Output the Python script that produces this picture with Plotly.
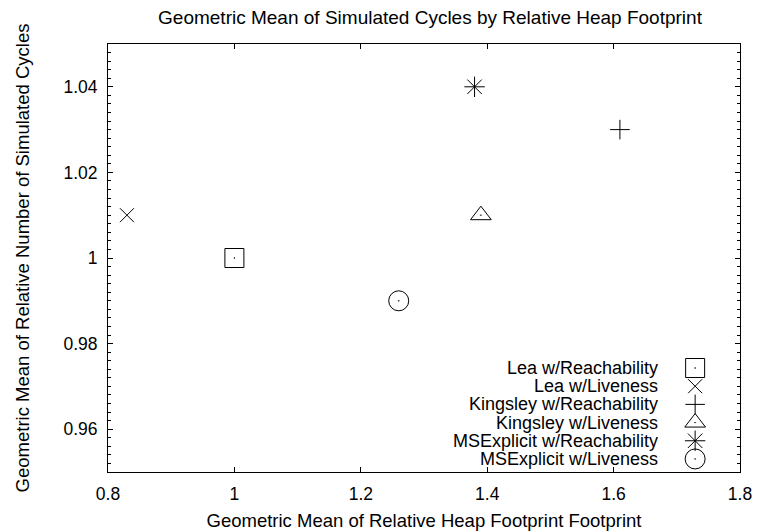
import plotly.graph_objects as go

# Geometric means per allocator / liveness configuration
series_names = [
    "Lea w/Reachability",
    "Lea w/Liveness",
    "Kingsley w/Reachability",
    "Kingsley w/Liveness",
    "MSExplicit w/Reachability",
    "MSExplicit w/Liveness",
]
heap_footprint = [1.00, 0.83, 1.61, 1.39, 1.38, 1.26]
sim_cycles = [1.00, 1.01, 1.03, 1.01, 1.04, 0.99]

x_tickvals = [0.8, 1.0, 1.2, 1.4, 1.6, 1.8]
x_ticktext = ["0.8", "1", "1.2", "1.4", "1.6", "1.8"]

X_RANGE = [0.8, 1.8]
Y_RANGE = [0.95, 1.05]

# gnuplot-like point types
symbols = ["square-open-dot", "x-thin-open", "cross-thin-open",
           "triangle-up-open-dot", "asterisk-open", "circle-open-dot"]
sizes = [19, 14, 14, 18, 17, 20]

FONT = "Liberation Sans, Arial, sans-serif"
FS_TICK = 17.5
FS_KEY = 18
FS_AXTITLE = 18.5
FS_TITLE = 19

fig = go.Figure()

for name, xv, yv, sym, sz in zip(series_names, heap_footprint, sim_cycles, symbols, sizes):
    fig.add_trace(go.Scatter(
        x=[xv], y=[yv], mode="markers", name=name, showlegend=False,
        marker=dict(symbol=sym, size=sz, color="black",
                    line=dict(color="black", width=1)),
        cliponaxis=False,
    ))


def frac_to_x(f):
    return X_RANGE[0] + f * (X_RANGE[1] - X_RANGE[0])


def frac_to_y(f):
    return Y_RANGE[0] + f * (Y_RANGE[1] - Y_RANGE[0])


# Key in the lower right: right-aligned text with the symbol after it
key_x_text = 0.873
key_x_sym = 0.929
key_y0 = 0.243
key_dy = 0.0425
annotations = []
for i, (name, sym, sz) in enumerate(zip(series_names, symbols, sizes)):
    ky = key_y0 - i * key_dy
    fig.add_trace(go.Scatter(
        x=[frac_to_x(key_x_sym)], y=[frac_to_y(ky)], mode="markers",
        showlegend=False, hoverinfo="skip",
        marker=dict(symbol=sym, size=sz, color="black",
                    line=dict(color="black", width=1)),
        cliponaxis=False,
    ))
    annotations.append(dict(
        text=name, xref="paper", yref="paper", x=key_x_text, y=ky,
        xanchor="right", yanchor="middle", showarrow=False,
        font=dict(family=FONT, size=FS_KEY, color="black"),
    ))

axis_common = dict(
    showgrid=False, zeroline=False, showline=True, linecolor="black",
    linewidth=1, ticks="inside", tickcolor="black", tickwidth=1,
    ticklen=5, mirror="allticks",
    tickfont=dict(family=FONT, size=FS_TICK, color="black"),
)

fig.update_layout(
    width=759, height=531,
    margin=dict(l=108, r=19, t=44, b=59, autoexpand=False),
    paper_bgcolor="white", plot_bgcolor="white",
    font=dict(family=FONT, size=FS_TICK, color="black"),
    title=dict(
        text="Geometric Mean of Simulated Cycles by Relative Heap Footprint",
        x=430 / 759, xref="container", xanchor="center",
        y=1 - 17 / 531, yref="container", yanchor="middle",
        font=dict(family=FONT, size=FS_TITLE, color="black"),
    ),
    xaxis=dict(
        **axis_common,
        range=X_RANGE, tickmode="array",
        tickvals=x_tickvals, ticktext=x_ticktext,
        ticklabelstandoff=6,
        title=dict(text="Geometric Mean of Relative Heap Footprint Footprint",
                   standoff=11, font=dict(family=FONT, size=FS_AXTITLE, color="black")),
    ),
    yaxis=dict(
        **axis_common,
        range=Y_RANGE, tickmode="linear", tick0=0.96, dtick=0.02,
        ticklabelstandoff=6,
        minor=dict(tick0=0.95, dtick=0.002,
                   ticks="inside", ticklen=3, tickwidth=1,
                   tickcolor="black", showgrid=False),
        title=dict(text="Geometric Mean of Relative Number of Simulated Cycles",
                   standoff=28, font=dict(family=FONT, size=FS_AXTITLE, color="black")),
    ),
    annotations=annotations,
    showlegend=False,
)

fig.write_html("out.html")
